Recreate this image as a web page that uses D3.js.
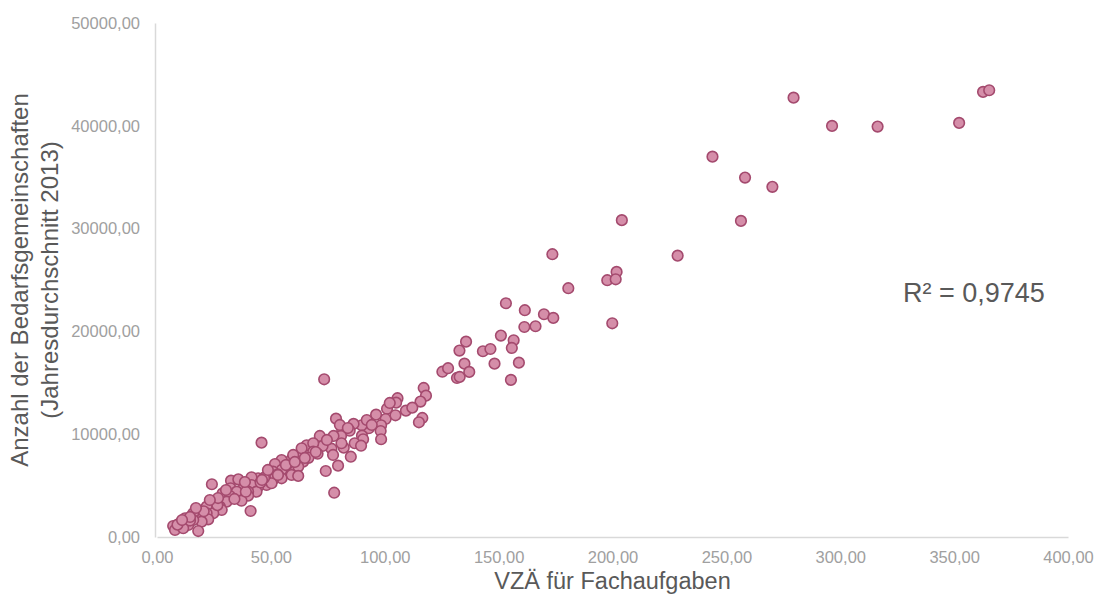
<!DOCTYPE html>
<html>
<head>
<meta charset="utf-8">
<script src="https://cdn.jsdelivr.net/npm/d3@7"></script>
<style>
  body { margin: 0; background: #fff; }
  text { font-family: "Liberation Sans", Arial, sans-serif; }
</style>
</head>
<body>
<div id="chart"></div>
<script>
// VZÄ für Fachaufgaben (x) und Bedarfsgemeinschaften (y)
const vza = [
  279.5, 296.4, 316.4, 352.2, 362.7, 365.4, 243.9, 258.2, 270.2, 256.4,
  228.6, 204.1, 173.6, 201.8, 197.7, 201.4, 180.6, 199.9, 153.2, 161.5,
  169.9, 174.0, 161.3, 166.2, 151.0, 156.6, 155.8, 135.7, 132.8, 143.1,
  146.4, 135.0, 148.2, 158.9, 125.3, 127.8, 131.7, 132.9, 137.1, 155.4,
  117.1, 73.4, 118.1, 115.7, 116.5, 115.0, 105.6, 105.0, 101.0, 109.3,
  112.1, 96.2, 100.4, 104.7, 98.4, 98.2, 98.4, 93.0, 89.9, 86.3,
  90.0, 90.5, 86.8, 89.6, 84.6, 81.3, 80.8, 77.5, 78.6, 71.5,
  82.0, 76.6, 72.7, 85.1, 79.5, 74.1, 65.7, 77.8, 68.6, 63.5,
  68.6, 59.1, 54.7, 51.8, 64.2, 62.0, 57.6, 54.7, 51.0, 59.1,
  62.0, 54.7, 51.0, 47.4, 44.4, 41.5, 48.1, 44.4, 41.5, 37.9,
  50.3, 43.7, 40.0, 37.1, 45.9, 41.1, 24.1, 32.5, 35.7, 47.0,
  32.3, 35.0, 28.8, 32.0, 40.0, 37.1, 30.6, 27.6, 24.7, 21.8,
  28.4, 24.7, 21.8, 18.9, 15.9, 22.5, 19.6, 15.9, 12.3, 13.7,
  10.1, 7.1, 7.9, 18.1, 11.5, 81.0, 77.3, 63.5, 59.8, 57.0,
  66.5, 70.5, 53.0, 45.5, 39.0, 34.0, 26.5, 20.5, 14.5, 9.0,
  48.7, 56.6, 60.5, 64.9, 53.1, 46.1, 38.6, 30.3, 26.8, 23.2,
  17.1, 14.5, 11.0, 69.7, 74.6, 80.3, 83.8, 92.1, 94.3, 102.2
];
const bg = [
  42740, 39990, 39920, 40280, 43300, 43460, 37000, 34960, 34060, 30750,
  27370, 30820, 27510, 25790, 24980, 25070, 24200, 20790, 22740, 22060,
  21670, 21310, 20430, 20500, 19590, 19140, 18390, 19000, 18130, 18070,
  18290, 16860, 16860, 16960, 16080, 16420, 15470, 15570, 16060, 15280,
  14500, 15340, 13750, 13170, 11580, 11160, 13500, 13070, 12480, 12290,
  12580, 11900, 11480, 11840, 10870, 10310, 9510, 10580, 10870, 11000,
  9860, 9510, 9120, 8880, 10340, 10410, 9830, 9830, 11510, 9830,
  8690, 8590, 8850, 7810, 6940, 6420, 8920, 4310, 9120, 7980,
  8300, 7560, 7490, 7100, 7330, 6840, 6690, 6520, 6350, 6030,
  5940, 5710, 5610, 5810, 5710, 5810, 5060, 4890, 5060, 4740,
  5230, 4410, 4410, 4090, 9180, 2530, 5130, 5480, 5610, 5750,
  4740, 4410, 4250, 3990, 4020, 3530, 3440, 2950, 3280, 2950,
  2630, 2310, 2310, 2140, 2310, 1720, 1490, 1650, 1820, 1170,
  1330, 1070, 680, 580, 850, 9120, 7980, 8630, 7980, 7000,
  7700, 8100, 6100, 5300, 4400, 3700, 3100, 2500, 1600, 1200,
  6520, 7000, 7300, 7690, 6030, 5550, 5350, 4570, 3790, 3600,
  2820, 1950, 1650, 8270, 9440, 10900, 10600, 11380, 10900, 13040
];
const xTicks = [0, 50, 100, 150, 200, 250, 300, 350, 400];
const yTicks = [0, 10000, 20000, 30000, 40000, 50000];
const r2Label = "R² = 0,9745";
const xTitle = "VZÄ für Fachaufgaben";
const yTitle = ["Anzahl der Bedarfsgemeinschaften", "(Jahresdurchschnitt 2013)"];

const width = 1097;
const height = 599;
const margin = { left: 157, right: 29, top: 23, bottom: 62 };

const svg = d3.select("#chart")
    .append("svg")
    .attr("width", width)
    .attr("height", height);

const x = d3.scaleLinear().domain([0, 400]).range([margin.left, width - margin.right]);
const y = d3.scaleLinear().domain([0, 50000]).range([height - margin.bottom, margin.top]);

const fmt = v => d3.format(".2f")(v).replace(".", ",");

// Achsen
const xAxis = svg.append("g")
    .attr("transform", `translate(0,${y(0)})`)
    .call(d3.axisBottom(x).tickValues(xTicks).tickFormat(fmt).tickSize(0).tickPadding(14));
const yAxis = svg.append("g")
    .attr("transform", `translate(${x(0) - 2},0)`)
    .call(d3.axisLeft(y).tickValues(yTicks).tickFormat(fmt).tickSize(0).tickPadding(15));

[xAxis, yAxis].forEach(a => {
    a.select(".domain").attr("stroke", "#d9d9d9").attr("stroke-width", 1.5);
    a.selectAll("text")
        .attr("fill", "#a0a0a0")
        .style("font-size", "16.5px")
        .style("font-family", "'Liberation Sans', Arial, sans-serif");
});

// Punkte
svg.append("g")
    .selectAll("circle")
    .data(vza.map((v, i) => ({ x: v, y: bg[i] })))
    .enter()
    .append("circle")
    .attr("cx", d => x(d.x))
    .attr("cy", d => y(d.y))
    .attr("r", 5.3)
    .attr("fill", "#d58ea9")
    .attr("stroke", "#a44a6e")
    .attr("stroke-width", 1.6);

// Beschriftungen
svg.append("text")
    .attr("x", 903)
    .attr("y", 302)
    .attr("fill", "#595959")
    .style("font-size", "27px")
    .text(r2Label);

svg.append("text")
    .attr("x", (x(0) + x(400)) / 2)
    .attr("y", 589)
    .attr("text-anchor", "middle")
    .attr("fill", "#595959")
    .style("font-size", "23.5px")
    .text(xTitle);

const yt = svg.append("text")
    .attr("transform", `translate(28,${(y(0) + y(50000)) / 2}) rotate(-90)`)
    .attr("text-anchor", "middle")
    .attr("fill", "#595959")
    .style("font-size", "24px");
yTitle.forEach((t, i) => {
    yt.append("tspan").attr("x", 0).attr("dy", i === 0 ? 0 : 30).text(t);
});
</script>
</body>
</html>
